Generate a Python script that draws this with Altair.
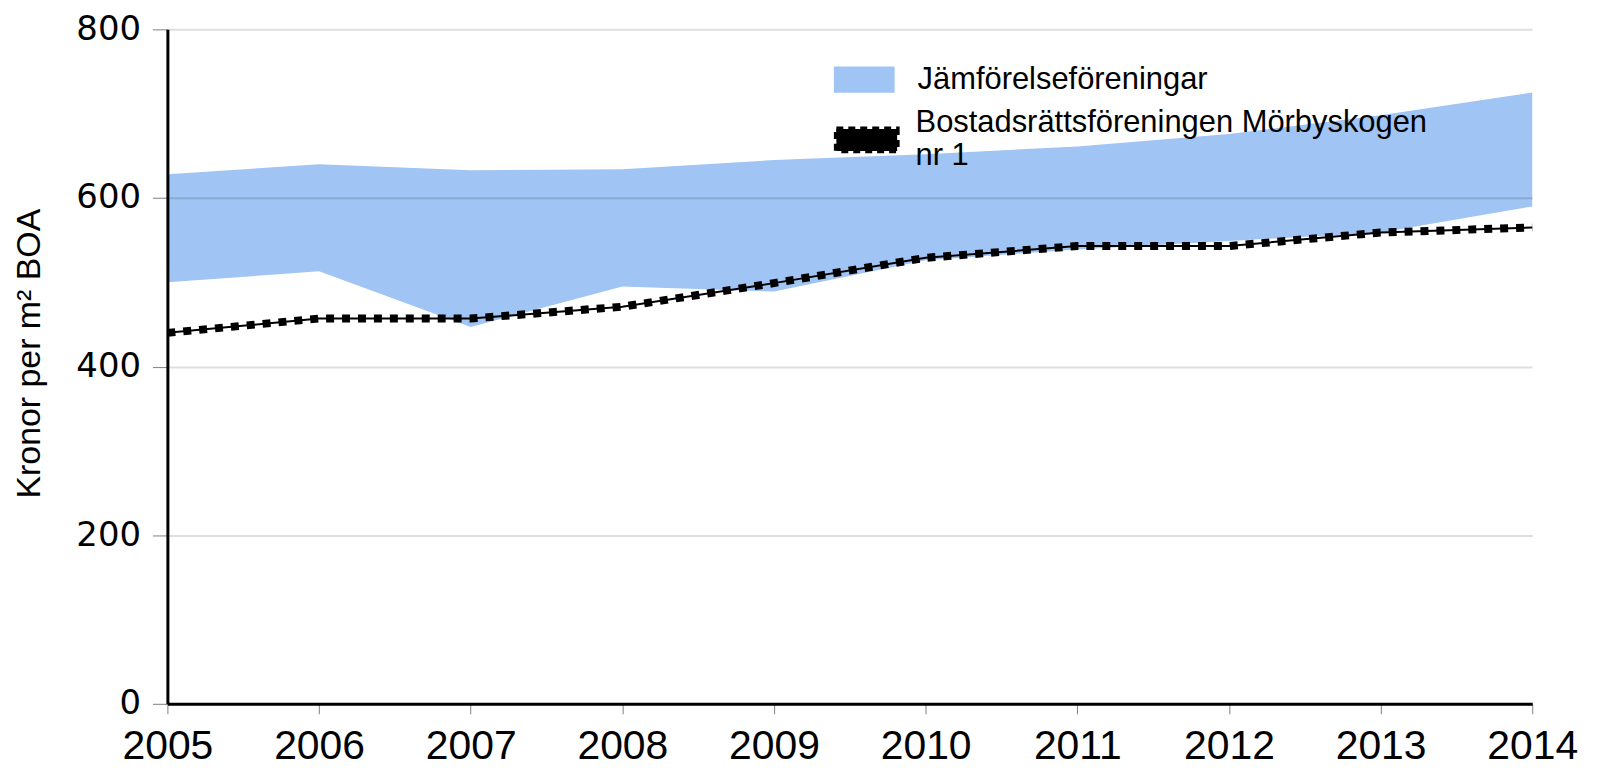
import altair as alt
import pandas as pd

years = [2005, 2006, 2007, 2008, 2009, 2010, 2011, 2012, 2013, 2014]
band_low = [500, 513, 447, 495, 489, 526, 539, 549, 559, 590]
band_high = [628, 640, 633, 634, 645, 652, 661, 676, 698, 725]
line_vals = [440, 457, 457, 471, 499, 529, 543, 543, 559, 565]
series_names = ["Jämförelseföreningar", "Bostadsrättsföreningen Mörbyskogen nr 1"]
series_colors = ["#a0c4f3", "#000000"]
y_ticks = [0, 200, 400, 600, 800]
y_title = "Kronor per m² BOA"

df_band = pd.DataFrame({"year": years, "low": band_low, "high": band_high,
                        "series": [series_names[0]] * len(years)})
df_line = pd.DataFrame({"year": years, "value": line_vals,
                        "series": [series_names[1]] * len(years)})

x_axis = alt.Axis(values=years, format="d", title=None, grid=False,
                  domainColor="black", domainWidth=3, tickColor="#808080",
                  tickSize=10, tickWidth=1, labelFont="Liberation Sans",
                  labelFontSize=41, labelColor="black", labelPadding=13,
                  labelFlush=False, labelOverlap=False, zindex=1)
y_axis = alt.Axis(values=y_ticks, title=y_title, grid=True, gridColor="black",
                  gridOpacity=0.13, gridWidth=2, domainColor="black",
                  domainWidth=3, tickColor="#808080", tickSize=15, tickWidth=1,
                  labelFont="DejaVu Sans", labelFontSize=34, labelColor="black",
                  labelPadding=12, titleFont="Liberation Sans", titleFontSize=34,
                  titleFontWeight="normal", titleColor="black", titlePadding=29,
                  titleY=325, zindex=1)

x_scale = alt.Scale(domain=[2005, 2014], nice=False, zero=False)
y_scale = alt.Scale(domain=[0, 800], nice=False)

label_expr = (f"datum.label == '{series_names[1]}' ? "
              f"['Bostadsrättsföreningen Mörbyskogen', 'nr 1'] : datum.label")

band = alt.Chart(df_band).mark_area(opacity=1).encode(
    x=alt.X("year:Q", scale=x_scale, axis=x_axis),
    y=alt.Y("low:Q", scale=y_scale, axis=y_axis),
    y2="high:Q",
    color=alt.Color(
        "series:N",
        scale=alt.Scale(domain=series_names[:1], range=series_colors[:1]),
        legend=alt.Legend(
            title=None, orient="none", legendX=669, legendY=20,
            symbolType="M-1,-0.43H1V0.43H-1Z", symbolSize=3721,
            symbolOpacity=1, symbolStrokeWidth=0,
            labelFont="Liberation Sans", labelFontSize=31, labelColor="black",
            labelLimit=0, labelOffset=23,
        ),
    ),
)

line_thin = alt.Chart(df_line).mark_line(color="black", strokeWidth=2).encode(
    x=alt.X("year:Q", scale=x_scale, axis=x_axis),
    y=alt.Y("value:Q", scale=y_scale, axis=y_axis),
)

line_dash = alt.Chart(df_line).mark_line(strokeWidth=8, strokeDash=[8, 8]).encode(
    x=alt.X("year:Q", scale=x_scale, axis=x_axis),
    y=alt.Y("value:Q", scale=y_scale, axis=y_axis),
    color=alt.Color(
        "series:N",
        scale=alt.Scale(domain=series_names[1:], range=series_colors[1:]),
        legend=alt.Legend(
            title=None, orient="none", legendX=669, legendY=78,
            symbolType="M-1,-0.36H1V0.36H-1Z", symbolSize=3721,
            symbolOpacity=1, symbolFillColor="black", symbolStrokeColor="black",
            symbolStrokeWidth=5, symbolDash=[7, 5],
            labelFont="Liberation Sans", labelFontSize=31, labelColor="black",
            labelLimit=0, labelOffset=16, labelBaseline="line-bottom",
            labelExpr=label_expr,
        ),
    ),
)

chart = alt.layer(band, line_thin, line_dash).resolve_scale(
    color="independent"
).properties(
    width=1370, height=677,
    padding={"left": 160, "top": 20, "right": 60, "bottom": 65},
    autosize=alt.AutoSizeParams(type="none"),
).configure_view(stroke=None)

chart.save("out.html", embed_options={"renderer": "svg", "actions": False})
